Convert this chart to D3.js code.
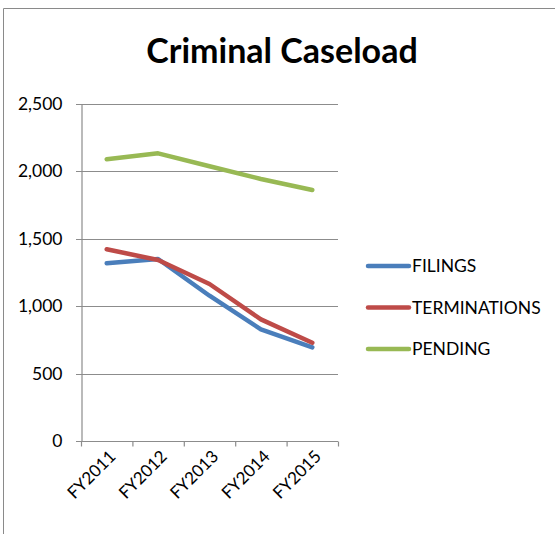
<!DOCTYPE html>
<html>
<head>
<meta charset="utf-8">
<script src="https://cdn.jsdelivr.net/npm/d3@7"></script>
<style>
body { margin: 0; background: #fff; }
svg text { font-family: Lato, "Open Sans", sans-serif; fill: #000; }
</style>
</head>
<body>
<svg id="chart" width="555" height="534"></svg>
<script>
var years = ["FY2011", "FY2012", "FY2013", "FY2014", "FY2015"];
var filings = [1316, 1348, 1076, 827, 694];
var terminations = [1420, 1341, 1163, 901, 728];
var pending = [2087, 2131, 2035, 1941, 1859];
var seriesNames = ["FILINGS", "TERMINATIONS", "PENDING"];
var seriesColors = ["#4a7ebb", "#be4b48", "#98b954"];
var yTicks = [0, 500, 1000, 1500, 2000, 2500];

var svg = d3.select("#chart");

// cornice del grafico
svg.append("path")
	.attr("d", "M3.5,534V8.5H555")
	.attr("fill", "none")
	.attr("stroke", "#8a8a8a")
	.attr("stroke-width", 1);

svg.append("text")
	.attr("x", 282).attr("y", 63)
	.attr("text-anchor", "middle")
	.style("font-size", "34px").style("font-weight", "bold")
	.text("Criminal Caseload");

var x = d3.scaleBand().domain(years).range([81, 338]);
var y = d3.scaleLinear().domain([0, 2500]).range([441, 103.5]);

// griglia orizzontale
svg.append("g").selectAll("line").data(yTicks).enter().append("line")
	.attr("x1", 76).attr("x2", 338)
	.attr("y1", function(d) { return Math.round(y(d)) + 0.5; })
	.attr("y2", function(d) { return Math.round(y(d)) + 0.5; })
	.attr("stroke", "#8c8c8c").attr("stroke-width", 1.2);

var yAxis = svg.append("g").attr("transform", "translate(81.5,0)")
	.call(d3.axisLeft(y).tickValues(yTicks).tickSize(0).tickPadding(19).tickFormat(d3.format(",")));
yAxis.select(".domain").attr("stroke", "#8c8c8c").attr("stroke-width", 1.2);
yAxis.selectAll("text").style("font-size", "17.5px").style("font-family", "Lato, sans-serif");

var xAxis = svg.append("g").attr("transform", "translate(0,441.5)");
xAxis.selectAll("line").data(d3.range(years.length + 1)).enter().append("line")
	.attr("x1", function(i) { return 81.5 + i * x.bandwidth(); })
	.attr("x2", function(i) { return 81.5 + i * x.bandwidth(); })
	.attr("y1", 0).attr("y2", 5)
	.attr("stroke", "#8c8c8c").attr("stroke-width", 1.2);

xAxis.selectAll("text").data(years).enter().append("text")
	.attr("text-anchor", "end")
	.attr("transform", function(d) {
		return "translate(" + (x(d) + x.bandwidth() / 2 + 10) + ",16) rotate(-45)";
	})
	.style("font-size", "17px")
	.text(function(d) { return d; });

var allSeries = [filings, terminations, pending];
var line = d3.line()
	.x(function(d, i) { return x(years[i]) + x.bandwidth() / 2; })
	.y(function(d) { return y(d); });

svg.append("g").selectAll("path").data(allSeries).enter().append("path")
	.attr("d", line)
	.attr("fill", "none")
	.attr("stroke", function(d, i) { return seriesColors[i]; })
	.attr("stroke-width", 4.5)
	.attr("stroke-linejoin", "round")
	.attr("stroke-linecap", "round");

// legenda
var legend = svg.append("g").selectAll("g").data(seriesNames).enter().append("g")
	.attr("transform", function(d, i) { return "translate(368," + (266 + i * 41.5) + ")"; });
legend.append("line")
	.attr("x1", 0).attr("x2", 41).attr("y1", 0).attr("y2", 0)
	.attr("stroke", function(d, i) { return seriesColors[i]; })
	.attr("stroke-width", 4.5).attr("stroke-linecap", "round");
legend.append("text")
	.attr("x", 44).attr("dy", "0.36em")
	.style("font-size", "17.5px")
	.text(function(d) { return d; });
</script>
</body>
</html>
